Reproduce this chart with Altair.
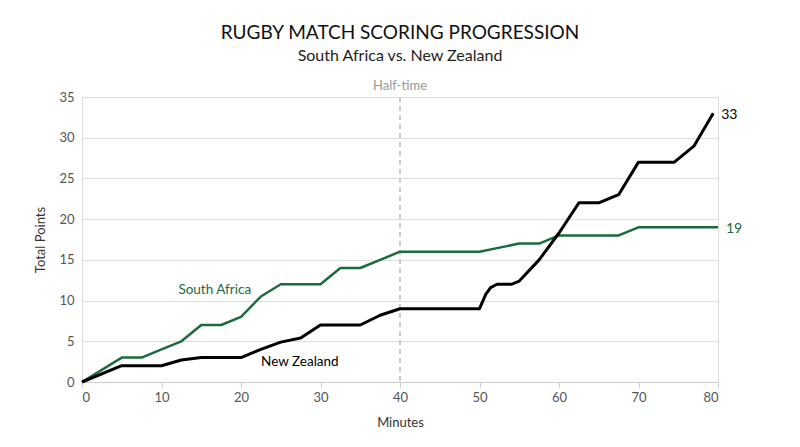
import altair as alt
import pandas as pd

sa_min = [0, 5, 7.5, 10, 12.5, 15, 17.5, 20, 22.5, 25, 27.5, 30, 32.5, 35, 37.5, 40,
          50, 52.5, 55, 57.5, 60, 67.5, 70, 80]
sa_pts = [0, 3, 3, 4, 5, 7, 7, 8, 10.5, 12, 12, 12, 14, 14, 15, 16,
          16, 16.5, 17, 17, 18, 18, 19, 19]
nz_min = [0, 5, 10, 12.5, 15, 20, 22.5, 25, 27.5, 30, 35, 37.5, 40, 50, 50.8, 51.4, 52.2,
          54, 55, 57.5, 60, 62.5, 65, 67.5, 70, 74.5, 77, 79.4]
nz_pts = [0, 2, 2, 2.7, 3, 3, 4, 4.9, 5.4, 7, 7, 8.2, 9, 9, 10.8, 11.6, 12,
          12, 12.4, 15, 18.3, 22, 22, 23, 27, 27, 29, 33]

GREEN = "#1b6b3d"
BLACK = "#000000"
FONT = "Lato"

sa = pd.DataFrame({"Minute": sa_min, "Points": sa_pts, "Team": "South Africa"})
nz = pd.DataFrame({"Minute": nz_min, "Points": nz_pts, "Team": "New Zealand"})

xs = alt.Scale(domain=[0, 80], nice=False)
ys = alt.Scale(domain=[0, 35], nice=False)

x_axis = alt.Axis(title="Minutes", values=list(range(0, 81, 10)), grid=False,
                  labelColor="#555555", labelFontSize=13, labelFont=FONT,
                  titleFont=FONT, titleFontSize=13, titleFontWeight="normal",
                  titleColor="#333333", titlePadding=12, domainColor="#cccccc",
                  tickColor="#cccccc", tickSize=5, labelPadding=4)
y_axis = alt.Axis(title="Total Points", values=list(range(0, 36, 5)),
                  gridColor="#dddddd", domain=False, ticks=False,
                  labelColor="#555555", labelFontSize=13, labelFont=FONT,
                  titleFont=FONT, titleFontSize=13, titleFontWeight="normal",
                  titleColor="#333333", labelPadding=8, titlePadding=11)

X = alt.X("Minute:Q", scale=xs, axis=x_axis)
Y = alt.Y("Points:Q", scale=ys, axis=y_axis)

sa_line = alt.Chart(sa).mark_line(color=GREEN, strokeWidth=2.5, strokeJoin="round").encode(x=X, y=Y)
nz_line = alt.Chart(nz).mark_line(color=BLACK, strokeWidth=3, strokeJoin="round").encode(x=X, y=Y)

half = pd.DataFrame({"Minute": [40], "Points": [35], "Label": ["Half-time"]})
half_rule = alt.Chart(half).mark_rule(color="#bbbbbb", strokeDash=[5, 4], strokeWidth=1.5).encode(x=X)
half_text = alt.Chart(half).mark_text(color="#999999", fontSize=13, font=FONT, dy=-11).encode(
    x=X, y=Y, text="Label:N")

team_color = alt.Scale(domain=["New Zealand", "South Africa"], range=[BLACK, GREEN])

end = pd.DataFrame({"Minute": [nz_min[-1], sa_min[-1]], "Points": [nz_pts[-1], sa_pts[-1]],
                    "Label": [str(nz_pts[-1]), str(sa_pts[-1])], "Team": ["New Zealand", "South Africa"]})
end_text = alt.Chart(end).mark_text(align="left", dx=8, dy=2, fontSize=14, font=FONT).encode(
    x=X, y=Y, text="Label:N", color=alt.Color("Team:N", scale=team_color, legend=None))

names = pd.DataFrame({"Minute": [16.7, 27.4], "Points": [11.3, 2.4],
                      "Label": ["South Africa", "New Zealand"], "Team": ["South Africa", "New Zealand"]})
name_text = alt.Chart(names).mark_text(fontSize=13.5, font=FONT).encode(
    x=X, y=Y, text="Label:N", color=alt.Color("Team:N", scale=team_color, legend=None))

chart = alt.layer(half_rule, sa_line, nz_line, half_text, end_text, name_text).properties(
    width=636, height=285,
    title=alt.TitleParams(text="RUGBY MATCH SCORING PROGRESSION",
                          subtitle="South Africa vs. New Zealand",
                          font=FONT, fontSize=19, fontWeight="normal", color="#111111",
                          subtitleFont=FONT, subtitleFontSize=16, subtitleColor="#222222",
                          subtitlePadding=5, anchor="middle", offset=16),
    autosize=alt.AutoSizeParams(type="none"),
    padding={"left": 74, "top": 89, "right": 70, "bottom": 50},
).configure_view(strokeOpacity=0, strokeWidth=0).configure_axisX(grid=False).configure(background="white")

chart.save("out.html", embed_options={"renderer": "svg", "actions": False})
